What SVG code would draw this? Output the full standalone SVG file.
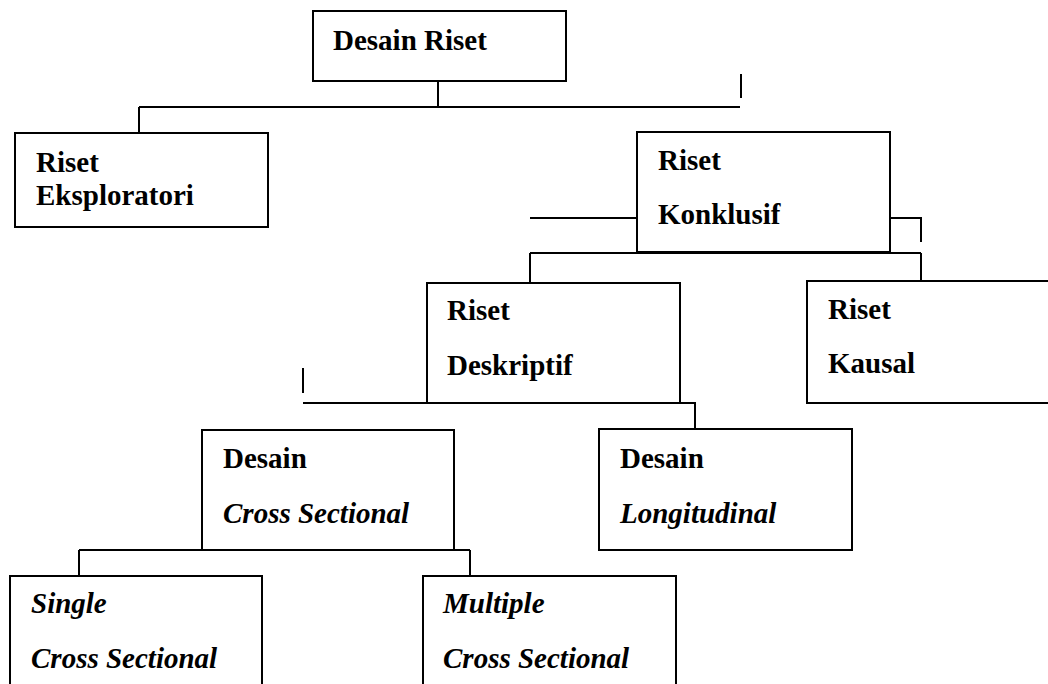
<svg xmlns="http://www.w3.org/2000/svg" width="1048" height="684" viewBox="0 0 1048 684">
  <style>
    .box { fill: #ffffff; stroke: #000000; stroke-width: 2; }
    .line { fill: none; stroke: #000000; stroke-width: 2; }
    .t { font-family: "Liberation Serif", "Times New Roman", serif; font-size: 29px; font-weight: bold; fill: #000000; }
    .i { font-style: italic; }
  </style>
  <rect width="1048" height="684" fill="#ffffff"/>

  <!-- connectors -->
  <g id="connectors">
    <path class="line" d="M438 81 V107 M139 107 H740 M139 107 V133"/>
    <path class="line" d="M741 74 V98"/>
    <path class="line" d="M530 218 H637 M890 218 H921 V242"/>
    <path class="line" d="M530 253 H921 M530 253 V283 M921 253 V281"/>
    <path class="line" d="M303 368 V393"/>
    <path class="line" d="M303 403 H695 V429"/>
    <path class="line" d="M79 550 H470 M79 550 V576 M470 550 V576"/>
  </g>

  <g id="desain-riset">
    <rect class="box" x="313" y="11" width="253" height="70"/>
    <text class="t" x="333" y="50">Desain Riset</text>
  </g>

  <g id="riset-eksploratori">
    <rect class="box" x="15" y="133" width="253" height="94"/>
    <text class="t" x="36" y="172">Riset</text>
    <text class="t" x="36" y="205">Eksploratori</text>
  </g>

  <g id="riset-konklusif">
    <rect class="box" x="637" y="132" width="253" height="120"/>
    <text class="t" x="658" y="170">Riset</text>
    <text class="t" x="658" y="224">Konklusif</text>
  </g>

  <g id="riset-deskriptif">
    <rect class="box" x="427" y="283" width="253" height="120"/>
    <text class="t" x="447" y="320">Riset</text>
    <text class="t" x="447" y="375">Deskriptif</text>
  </g>

  <g id="riset-kausal">
    <rect class="box" x="807" y="281" width="253" height="122"/>
    <text class="t" x="828" y="319">Riset</text>
    <text class="t" x="828" y="373">Kausal</text>
  </g>

  <g id="desain-cross-sectional">
    <rect class="box" x="202" y="430" width="252" height="120"/>
    <text class="t" x="223" y="468">Desain</text>
    <text class="t i" x="223" y="523">Cross Sectional</text>
  </g>

  <g id="desain-longitudinal">
    <rect class="box" x="599" y="429" width="253" height="121"/>
    <text class="t" x="620" y="468">Desain</text>
    <text class="t i" x="620" y="523">Longitudinal</text>
  </g>

  <g id="single-cross-sectional">
    <rect class="box" x="10" y="576" width="252" height="130"/>
    <text class="t i" x="31" y="613">Single</text>
    <text class="t i" x="31" y="668">Cross Sectional</text>
  </g>

  <g id="multiple-cross-sectional">
    <rect class="box" x="423" y="576" width="253" height="130"/>
    <text class="t i" x="443" y="613">Multiple</text>
    <text class="t i" x="443" y="668">Cross Sectional</text>
  </g>
</svg>
